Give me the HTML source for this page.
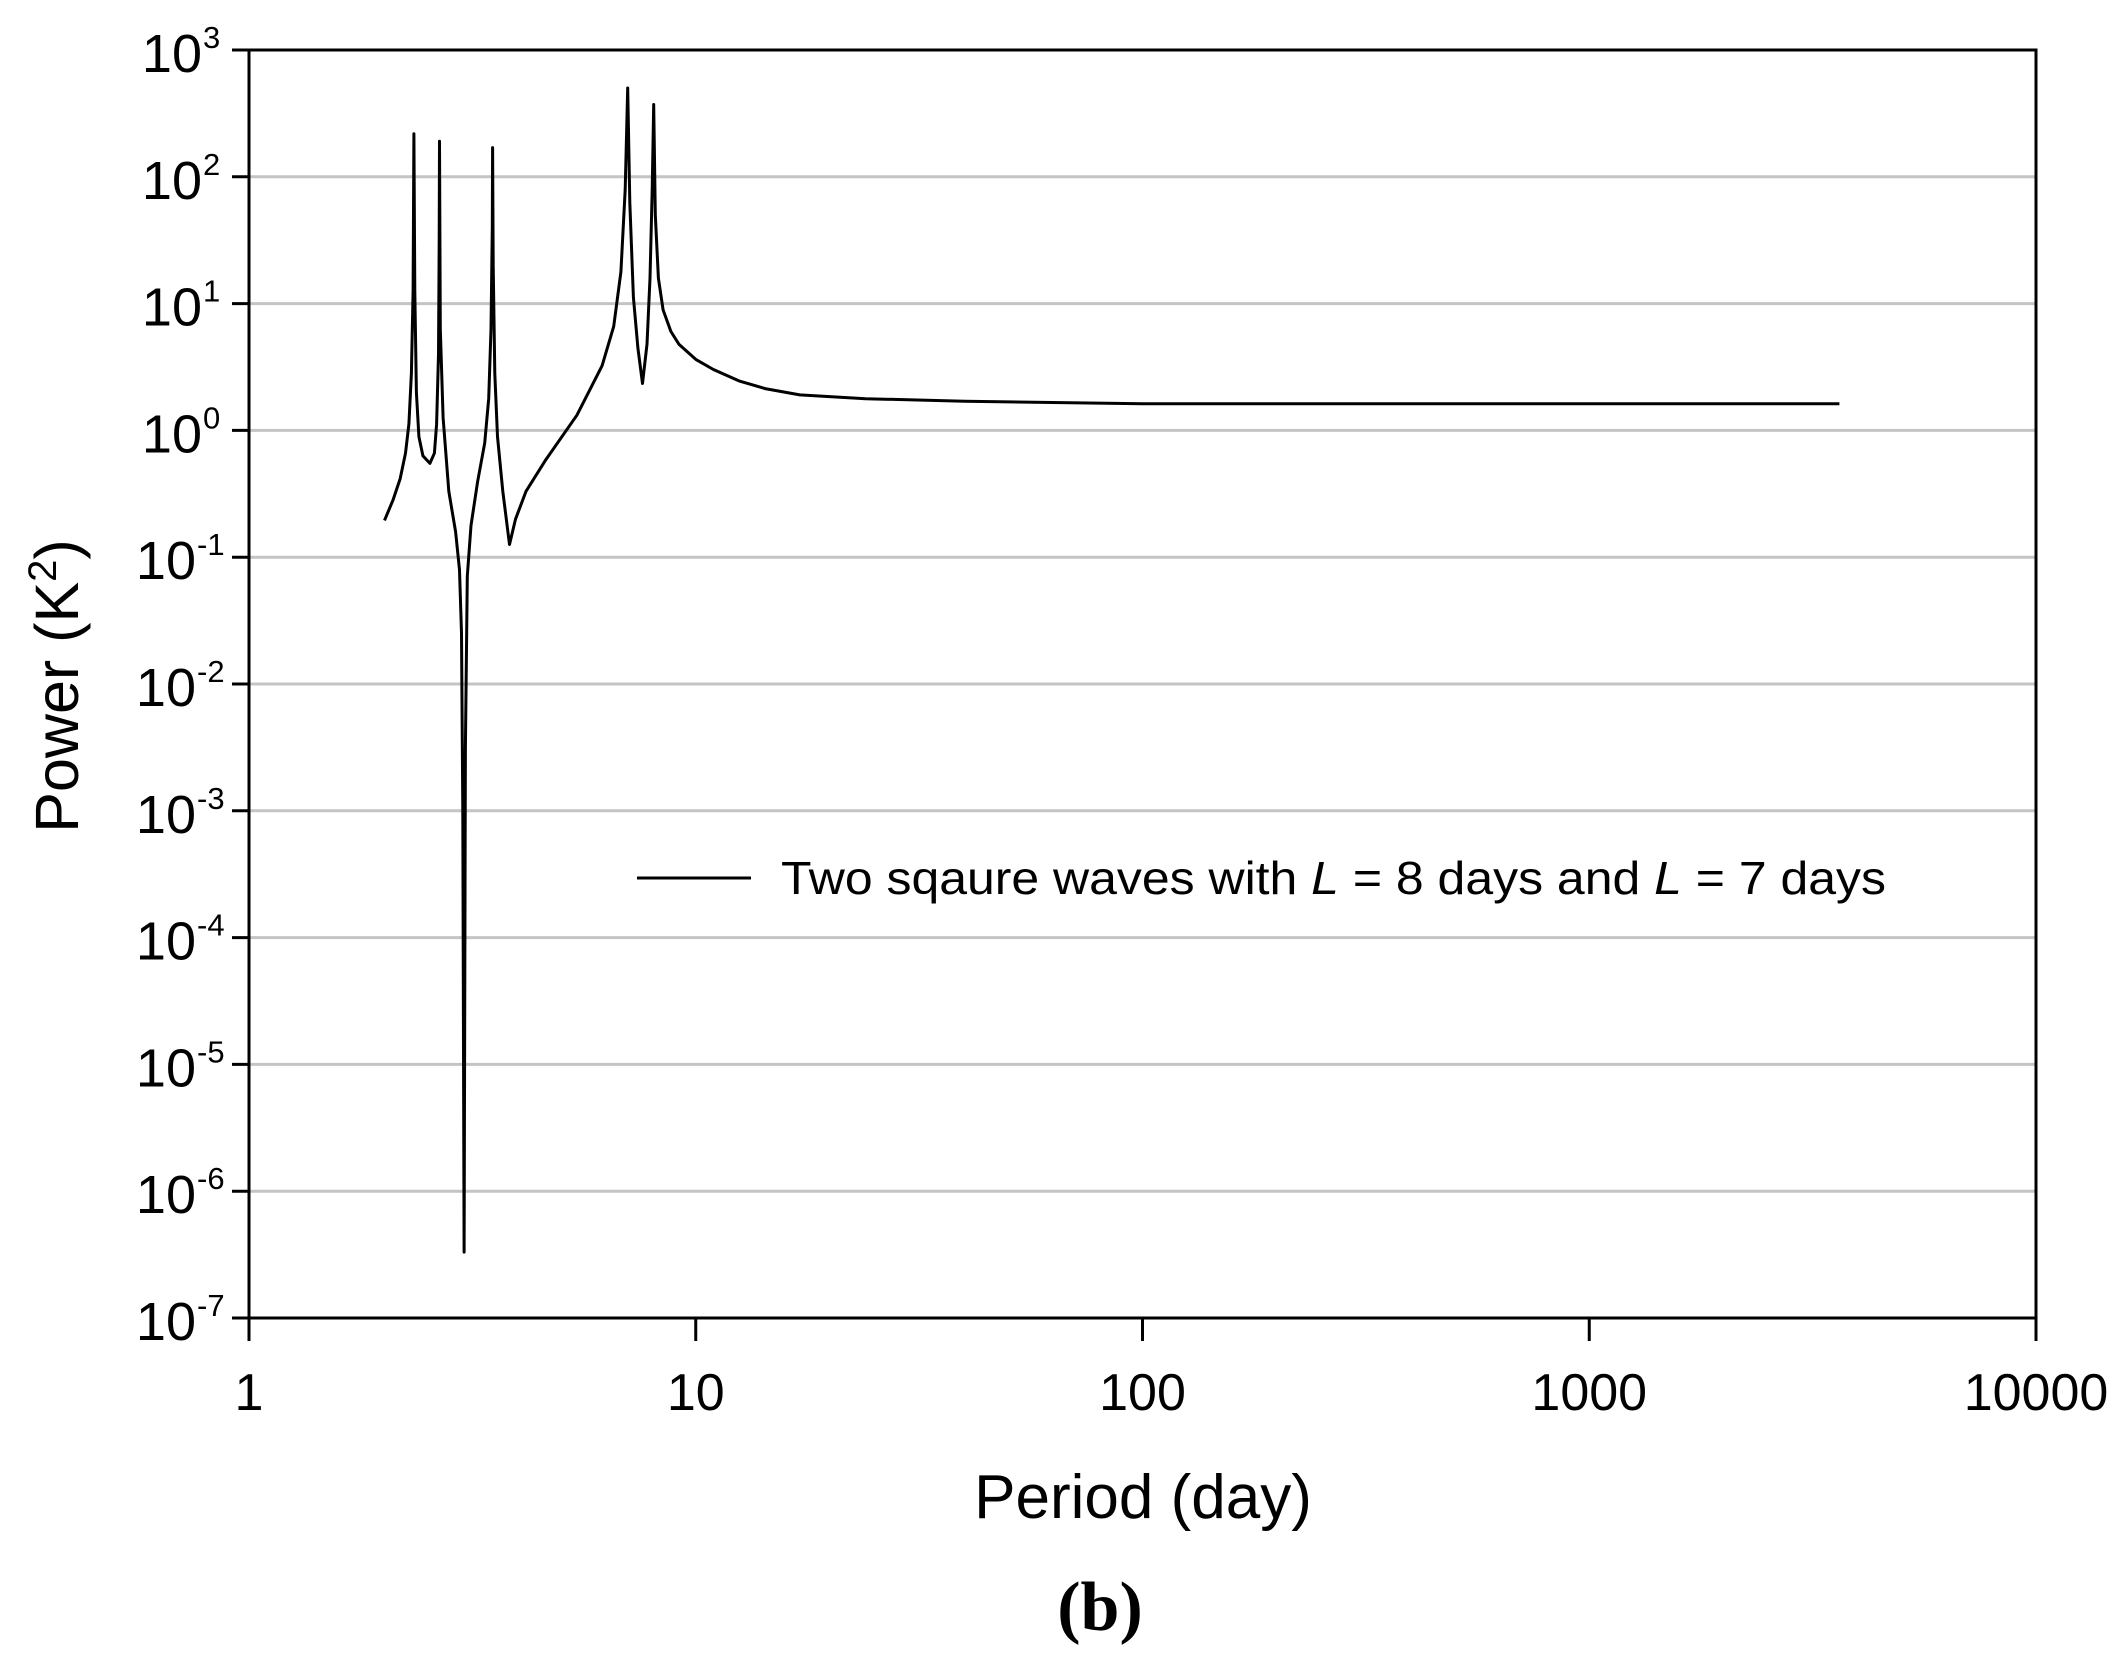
<!DOCTYPE html>
<html><head><meta charset="utf-8"><style>
html,body{margin:0;padding:0;background:#fff;width:2122px;height:1666px;overflow:hidden}
svg{display:block;font-family:"Liberation Sans",Arial,sans-serif}
</style></head><body>
<svg id="chart" width="2122" height="1666" viewBox="0 0 2122 1666" xmlns="http://www.w3.org/2000/svg">
<g id="grid"></g><g id="axes"></g><g id="series"></g>
<g>
<line x1="637" y1="878" x2="751" y2="878" stroke="#000" stroke-width="3"/>
<text x="781" y="894" font-size="46" textLength="1105" lengthAdjust="spacingAndGlyphs">Two sqaure waves with <tspan font-style="italic">L</tspan> = 8 days and <tspan font-style="italic">L</tspan> = 7 days</text>
</g>
<text transform="translate(78,686) rotate(-90)" text-anchor="middle" font-size="61">Power (K<tspan dy="-22" font-size="40">2</tspan><tspan dy="22">)</tspan></text>
<text x="1143" y="1518" text-anchor="middle" font-size="62">Period (day)</text>
<text x="1100" y="1630" text-anchor="middle" font-size="70" font-weight="bold" font-family="'Liberation Serif',serif">(b)</text>
</svg>
<script>
const xTicks=[1,10,100,1000,10000];
const xTickLabels=["1","10","100","1000","10000"];
const yExps=[3,2,1,0,-1,-2,-3,-4,-5,-6,-7];
const periods=[2.01,2.10,2.18,2.24,2.28,2.31,2.33,2.34,2.35,2.37,2.40,2.45,2.54,2.60,2.63,2.655,2.665,2.67,2.68,2.72,2.80,2.90,2.96,2.99,3.01,3.03,3.05,3.08,3.14,3.25,3.37,3.44,3.48,3.505,3.51,3.52,3.55,3.60,3.70,3.83,3.95,4.17,4.62,5.42,6.17,6.55,6.80,6.95,7.04,7.12,7.25,7.42,7.60,7.78,7.90,7.99,8.05,8.12,8.25,8.45,8.80,9.17,10.0,10.95,12.5,14.3,17.1,24,40,100,300,1000,3630];
const powerExps=[-0.71,-0.55,-0.38,-0.18,0.05,0.45,1.1,2.34,1.1,0.3,-0.05,-0.2,-0.26,-0.18,0.05,0.6,1.5,2.28,0.8,0.1,-0.48,-0.80,-1.1,-1.6,-3.0,-6.48,-2.5,-1.15,-0.75,-0.40,-0.10,0.25,0.8,1.6,2.23,1.3,0.45,-0.05,-0.48,-0.90,-0.70,-0.48,-0.23,0.12,0.51,0.82,1.25,1.9,2.70,1.8,1.05,0.65,0.37,0.68,1.2,1.9,2.57,1.7,1.2,0.95,0.78,0.68,0.56,0.48,0.39,0.33,0.28,0.25,0.23,0.21,0.21,0.21,0.21];
const X0=249,X1=2036,Y0=50,Y1=1318;
const xs=v=>X0+(Math.log10(v)-0)/4*(X1-X0);
const ys=e=>Y0+(3-e)/10*(Y1-Y0);
const NS="http://www.w3.org/2000/svg";
function mk(t,a,p){const e=document.createElementNS(NS,t);for(const k in a)e.setAttribute(k,a[k]);p.appendChild(e);return e;}
const grid=document.getElementById('grid'),axes=document.getElementById('axes'),ser=document.getElementById('series');
yExps.forEach(e=>{
  const y=ys(e);
  if(e<3&&e>-7){const g=mk('line',{x1:X0,x2:X1,y1:y,y2:y,stroke:'#c4c4c4','stroke-width':3},grid);
  
  }
  const t=mk('line',{x1:232,x2:X0,y1:y,y2:y,stroke:'#000','stroke-width':3},axes);
  
  
  const l=mk('text',{x:202,y:y+22,'text-anchor':'end','font-size':54},axes);
  
  
  l.textContent='10';
  const s=mk('tspan',{x:203,dy:-24,'font-size':31,'text-anchor':'start'},l);s.textContent=String(e);
  if(e<0){l.setAttribute('x',196);s.setAttribute('x',197);}
});
xTicks.forEach((v,i)=>{
  const x=xs(v);
  const t=mk('line',{x1:x,x2:x,y1:Y1,y2:1341,stroke:'#000','stroke-width':3},axes);
  
  
  const l=mk('text',{x:x,y:1410,'text-anchor':'middle','font-size':52},axes);
  
  
  l.textContent=xTickLabels[i];
});
const fr=mk('rect',{x:X0,y:Y0,width:X1-X0,height:Y1-Y0,fill:'none',stroke:'#000','stroke-width':3},axes);


const d=periods.map((p,i)=>(i?'L':'M')+xs(p).toFixed(1)+','+ys(powerExps[i]).toFixed(1)).join(' ');
const path=mk('path',{d:d,fill:'none',stroke:'#000','stroke-width':3,'stroke-linejoin':'round'},ser);


</script>
</body></html>
